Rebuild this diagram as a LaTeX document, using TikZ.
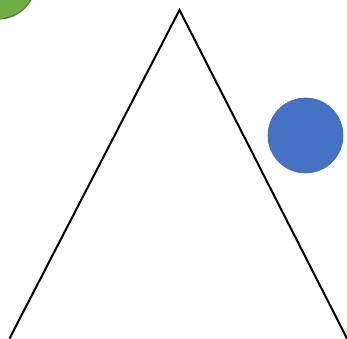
\documentclass[tikz,border=0pt]{standalone}
\definecolor{verde}{HTML}{70AD47}
\definecolor{verdeborde}{HTML}{507E32}
\definecolor{azul}{HTML}{4472C4}
\begin{document}
\begin{tikzpicture}[x=1pt, y=-1pt]
            \useasboundingbox (0,0) rectangle (347,338);
            % Triangulo (sin base)
            \coordinate (izq) at (9.5,338.5);
            \coordinate (cima) at (179.5,10);
            \coordinate (der) at (347,338.5);
            \draw[black, line width=2pt, line join=miter] (izq) -- (cima) -- (der);
            % Circulo verde
            \filldraw[verde, draw=verdeborde, line width=1.2pt]
                (-2,-19) circle (38);
            % Circulo azul
            \filldraw[azul, draw=azul!90!black, line width=0.6pt]
                (305.5,135.5) circle (37.5);
        \end{tikzpicture}
\end{document}
